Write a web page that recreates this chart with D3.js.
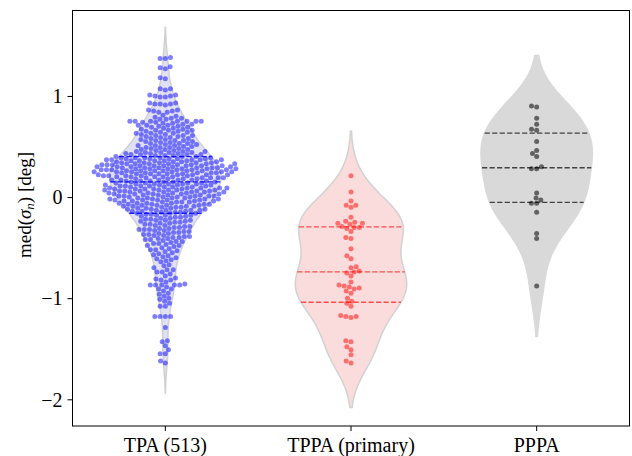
<!DOCTYPE html>
<html><head><meta charset="utf-8">
<script src="https://cdn.jsdelivr.net/npm/d3@7"></script>
<style>body{margin:0;background:#fff} svg{display:block}</style>
</head><body>
<svg id="chart" width="632" height="456"></svg>
<script>
// ---------------- data ----------------
const categories = ["TPA (513)", "TPPA (primary)", "PPPA"];
const yTicks = [-2, -1, 0, 1];

const tpaValueCounts = [
 [1.38,1],[1.37,2],[1.29,1],[1.28,1],[1.27,1],[1.18,1],[1.17,1],[1.07,2],[1.06,1],
 [1.01,2],[1.00,2],[0.99,2],[0.93,2],[0.92,3],[0.91,1],[0.86,2],[0.85,2],[0.84,2],
 [0.81,1],[0.80,1],[0.79,1],[0.78,2],[0.77,2],[0.75,7],
 [0.74,2],[0.73,2],[0.72,2],[0.71,3],[0.70,2],
 [0.69,2],[0.68,2],[0.67,2],[0.66,3],[0.65,2],
 [0.64,2],[0.63,3],[0.62,2],[0.61,3],[0.60,2],
 [0.59,2],[0.58,2],[0.57,2],[0.56,3],[0.55,2],
 [0.54,2],[0.53,3],[0.52,2],[0.51,3],[0.50,2],
 [0.49,3],[0.48,2],[0.47,3],[0.46,2],[0.45,3],
 [0.44,4],[0.43,3],[0.42,4],[0.41,3],[0.40,3],
 [0.39,5],[0.38,5],[0.37,5],[0.36,5],[0.35,4],
 [0.34,5],[0.33,6],[0.32,5],[0.31,6],[0.30,5],
 [0.29,6],[0.28,6],[0.27,6],[0.26,6],[0.25,6],
 [0.24,5],[0.23,5],[0.22,5],[0.21,5],[0.20,5],
 [0.19,5],[0.18,4],[0.17,5],[0.16,4],[0.15,4],
 [0.14,4],[0.13,5],[0.12,4],[0.11,5],[0.10,4],
 [0.09,5],[0.08,5],[0.07,5],[0.06,5],[0.05,5],
 [0.04,4],[0.03,5],[0.02,4],[0.01,5],[0.00,4],
 [-0.01,4],[-0.02,4],[-0.03,5],[-0.04,4],[-0.05,4],
 [-0.06,4],[-0.07,4],[-0.08,4],[-0.09,4],[-0.10,3],
 [-0.11,3],[-0.12,3],[-0.13,4],[-0.14,3],[-0.15,3],
 [-0.16,3],[-0.17,2],[-0.18,3],[-0.19,2],[-0.20,2],
 [-0.21,2],[-0.22,2],[-0.23,3],[-0.24,2],[-0.25,2],
 [-0.26,2],[-0.27,2],[-0.28,2],[-0.29,2],[-0.30,2],
 [-0.31,2],[-0.32,3],[-0.33,2],[-0.34,2],[-0.35,2],
 [-0.36,2],[-0.37,2],[-0.38,2],[-0.39,2],[-0.40,2],
 [-0.41,2],[-0.42,2],[-0.43,1],[-0.44,2],[-0.45,1],
 [-0.46,2],[-0.47,1],[-0.48,2],[-0.49,1],[-0.50,1],
 [-0.51,1],[-0.52,2],[-0.53,1],[-0.54,1],[-0.55,1],
 [-0.56,1],[-0.57,1],[-0.58,1],[-0.59,1],[-0.60,1],
 [-0.61,1],[-0.62,1],[-0.63,1],[-0.64,1],
 [-0.67,1],[-0.68,1],[-0.70,1],[-0.72,2],[-0.74,2],
 [-0.76,1],[-0.78,1],[-0.80,1],[-0.81,1],[-0.82,2],[-0.84,1],
 [-0.86,1],[-0.87,5],[-0.89,1],[-0.91,2],[-0.93,1],[-0.95,1],
 [-0.96,1],[-0.98,1],[-1.00,1],[-1.01,1],[-1.03,1],[-1.05,1],[-1.08,2],
 [-1.18,4],[-1.29,1],[-1.42,1],[-1.43,1],[-1.47,1],[-1.51,1],[-1.55,2],[-1.62,1],[-1.64,1]
];
const tppaValues = [0.21, 0.05, -0.04, -0.08, -0.08, -0.10, -0.20, -0.24, -0.25, -0.26, -0.26,
 -0.27, -0.29, -0.30, -0.30, -0.31, -0.34, -0.40, -0.41, -0.51, -0.58, -0.61, -0.69, -0.70,
 -0.73, -0.74, -0.75, -0.78, -0.84, -0.87, -0.88, -0.89, -0.90, -0.91, -0.93, -0.95, -1.00,
 -1.03, -1.05, -1.08, -1.17, -1.18, -1.18, -1.19, -1.42, -1.43, -1.48, -1.51, -1.56, -1.62, -1.64];
const ppppaValues = [0.90, 0.89, 0.78, 0.72, 0.67, 0.66, 0.55, 0.46, 0.43, 0.40, 0.30, 0.28, 0.28,
 0.04, -0.01, -0.03, -0.06, -0.06, -0.15, -0.36, -0.41, -0.88];

const tpaValues = tpaValueCounts.flatMap(([v, c]) => Array(c).fill(v));
const groups = [
  {name: categories[0], values: tpaValues},
  {name: categories[1], values: tppaValues},
  {name: categories[2], values: ppppaValues}
];

// ---------------- styles ----------------
const styles = [
  {fill: "#e1e1f5", edge: "#d0d0d4", dot: "#0000ff", dotOp: 0.5, line: "#0000ff", lineOp: 0.85},
  {fill: "#fadcdc", edge: "#d2d2d2", dot: "#ff0000", dotOp: 0.5, line: "#ff0000", lineOp: 0.65},
  {fill: "#d9d9d9", edge: "#d9d9d9", dot: "#000000", dotOp: 0.55, line: "#000000", lineOp: 0.7}
];
const FONT = "'Liberation Serif'";
const FS = "20px";

// ---------------- layout ----------------
const L = 72.5, R = 629.5, T = 10, B = 426;
const svg = d3.select("#chart");
const x = d3.scaleBand().domain(categories).range([L, R]).padding(0);
const y = d3.scaleLinear().domain([-2.264, 1.85]).range([B, T]);
const bw = x.bandwidth();
const violinHalf = bw * 0.3;
const gutter = bw * 0.4;
const dotR = 2.5;

function kde(values) {
  const n = values.length;
  const sd = d3.deviation(values);
  const h = sd * Math.pow(n, -0.2);
  const lo = d3.min(values) - 2 * h, hi = d3.max(values) + 2 * h;
  const grid = d3.range(100).map(i => lo + (hi - lo) * i / 99);
  const dens = grid.map(g => d3.sum(values, v => Math.exp(-0.5 * ((g - v) / h) ** 2)) / (n * h * Math.sqrt(2 * Math.PI)));
  const mx = d3.max(dens);
  return {grid, dens: dens.map(d => d / mx)};
}
function interp(v, grid, dens) {
  for (let i = 0; i < grid.length - 1; i++) {
    if (v >= grid[i] && v <= grid[i + 1]) {
      const t = (v - grid[i]) / (grid[i + 1] - grid[i]);
      return dens[i] + t * (dens[i + 1] - dens[i]);
    }
  }
  return 0;
}

// seaborn-like beeswarm (pixel space)
function beeswarm(values, cx) {
  const pts = values.map(v => ({v, u: B - y(v), x: cx}));
  pts.sort((a, b) => a.u - b.u);
  const swarm = [];
  for (const p of pts) {
    const neighbors = [];
    for (let j = swarm.length - 1; j >= 0; j--) {
      if (p.u - swarm[j].u < 2 * dotR) neighbors.push(swarm[j]); else break;
    }
    neighbors.reverse();
    if (neighbors.length === 0) { swarm.push({...p}); continue; }
    const cands = [cx];
    let leftFirst = true;
    for (const nb of neighbors) {
      const dy = p.u - nb.u;
      const dx = Math.sqrt(Math.max((2 * dotR) ** 2 - dy * dy, 0)) * 1.05;
      if (leftFirst) cands.push(nb.x - dx, nb.x + dx); else cands.push(nb.x + dx, nb.x - dx);
      leftFirst = !leftFirst;
    }
    const order = cands.map((c, i) => ({c, i, o: Math.abs(c - cx)})).sort((a, b) => a.o - b.o || a.i - b.i);
    let chosen = cx;
    for (const cand of order) {
      let ok = true;
      for (const nb of neighbors) {
        const dxx = nb.x - cand.c, dyy = nb.u - p.u;
        if (dxx * dxx + dyy * dyy < (2 * dotR) ** 2 - 1e-9) { ok = false; break; }
      }
      if (ok) { chosen = cand.c; break; }
    }
    swarm.push({...p, x: chosen});
  }
  swarm.forEach(s => { s.x = Math.max(cx - gutter, Math.min(cx + gutter, s.x)); });
  return swarm;
}

const plot = svg.append("g");
groups.forEach((g, gi) => {
  const st = styles[gi];
  const cx = x(g.name) + bw / 2;
  const k = kde(g.values);
  const pts = k.grid.map((v, i) => ({v, d: k.dens[i]}));
  const area = d3.area()
    .y(d => y(d.v))
    .x0(d => cx - d.d * violinHalf)
    .x1(d => cx + d.d * violinHalf);
  plot.append("path").attr("d", area(pts))
    .attr("fill", st.fill).attr("stroke", st.edge).attr("stroke-width", 1.5);

  const sorted = g.values.slice().sort(d3.ascending);
  [0.25, 0.5, 0.75].forEach(p => {
    const q = d3.quantile(sorted, p);
    const w = interp(q, k.grid, k.dens) * violinHalf;
    plot.append("line")
      .attr("x1", cx - w).attr("x2", cx + w)
      .attr("y1", y(q)).attr("y2", y(q))
      .attr("stroke", st.line).attr("stroke-opacity", st.lineOp)
      .attr("stroke-width", 1.4).attr("stroke-dasharray", "5.2,2.3");
  });

  const sw = beeswarm(g.values, cx);
  plot.append("g").selectAll("circle").data(sw).join("circle")
    .attr("cx", d => d.x).attr("cy", d => y(d.v)).attr("r", dotR)
    .attr("fill", st.dot).attr("fill-opacity", st.dotOp);
});

// ---------------- axes ----------------
const fmt = d => d < 0 ? "\u2212" + Math.abs(d) : String(d);
const yAxis = svg.append("g").attr("transform", `translate(${L},0)`)
  .call(d3.axisLeft(y).tickValues(yTicks).tickSize(5).tickPadding(5).tickFormat(fmt));
const xAxis = svg.append("g").attr("transform", `translate(0,${B})`)
  .call(d3.axisBottom(x).tickSize(5).tickPadding(6));
[yAxis, xAxis].forEach(a => {
  a.attr("font-family", null).attr("font-size", null);
  a.select(".domain").remove();
  a.selectAll(".tick line").attr("stroke", "#000").attr("stroke-width", 1);
  a.selectAll(".tick text").attr("fill", "#000").style("font-family", FONT).style("font-size", FS);
});
yAxis.selectAll(".tick text").attr("dy", "0.34em");
xAxis.selectAll(".tick text").attr("dy", "0.74em");

svg.append("rect").attr("x", L).attr("y", T + 0.5).attr("width", R - L).attr("height", B - T - 0.5)
  .attr("fill", "none").attr("stroke", "#000").attr("stroke-width", 1);

// y label
const yl = svg.append("text")
  .attr("transform", `translate(31,205) rotate(-90)`)
  .attr("text-anchor", "middle")
  .style("font-family", FONT).style("font-size", "19px").attr("fill", "#000");
yl.append("tspan").text("med(");
yl.append("tspan").style("font-style", "italic").text("σ");
yl.append("tspan").style("font-style", "italic").style("font-size", "13px").attr("dy", "3").text("n");
yl.append("tspan").attr("dy", "-3").text(") [deg]");
</script>
</body></html>
